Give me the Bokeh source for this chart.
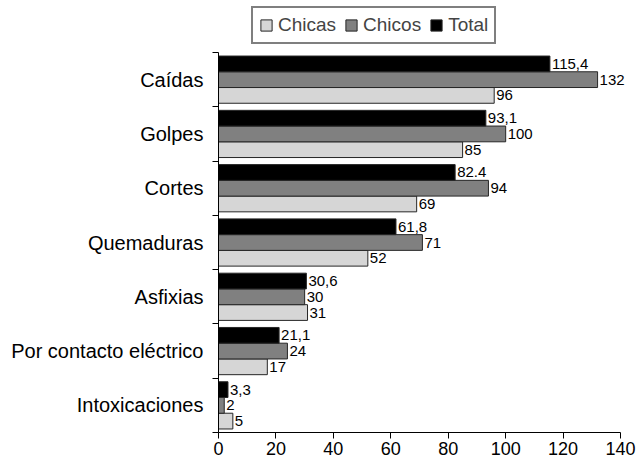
from bokeh.plotting import figure
from bokeh.models import ColumnDataSource, FixedTicker, Range1d, Legend, LegendItem, LabelSet
from bokeh.transform import dodge
from bokeh.core.properties import value
from bokeh.embed import file_html
from bokeh.resources import INLINE

categories = ["Caídas", "Golpes", "Cortes", "Quemaduras", "Asfixias",
              "Por contacto eléctrico", "Intoxicaciones"]
chicas = [96, 85, 69, 52, 31, 17, 5]
chicos = [132, 100, 94, 71, 30, 24, 2]
total = [115.4, 93.1, 82.4, 61.8, 30.6, 21.1, 3.3]
chicas_lbl = ["96", "85", "69", "52", "31", "17", "5"]
chicos_lbl = ["132", "100", "94", "71", "30", "24", "2"]
total_lbl = ["115,4", "93,1", "82.4", "61,8", "30,6", "21,1", "3,3"]
x_ticks = [0, 20, 40, 60, 80, 100, 120, 140]

n = len(categories)
ypos = [n - i - 0.5 for i in range(n)]
src = ColumnDataSource(dict(y=ypos, chicas=chicas, chicos=chicos, total=total,
                            chicas_lbl=chicas_lbl, chicos_lbl=chicos_lbl, total_lbl=total_lbl))

FONT = "Liberation Sans"
p = figure(width=637, height=464, output_backend="svg", toolbar_location=None,
           x_range=Range1d(0, 145.9), y_range=Range1d(0, n + 0.958),
           min_border_left=218, min_border_right=0, min_border_top=0, min_border_bottom=32)
p.outline_line_color = None
p.grid.grid_line_color = None
p.background_fill_color = "white"

bh = 0.29
outline = "#262626"
r_chicas = p.hbar(y=dodge("y", -bh, range=p.y_range), right="chicas", left=0, height=bh,
                  source=src, fill_color="#d6d6d6", line_color=outline, line_width=1)
r_chicos = p.hbar(y=dodge("y", 0, range=p.y_range), right="chicos", left=0, height=bh,
                  source=src, fill_color="#808080", line_color=outline, line_width=1)
r_total = p.hbar(y=dodge("y", bh, range=p.y_range), right="total", left=0, height=bh,
                 source=src, fill_color="#000000", line_color=outline, line_width=1)

for col, lbl, off in [("chicas", "chicas_lbl", -bh), ("chicos", "chicos_lbl", 0), ("total", "total_lbl", bh)]:
    ls = LabelSet(x=col, y=dodge("y", off, range=p.y_range), text=lbl, source=src,
                  x_offset=2, text_baseline="middle", text_align="left",
                  text_font=value(FONT), text_font_size=value("15px"), text_color="black")
    p.add_layout(ls)

# x axis
p.xaxis.ticker = FixedTicker(ticks=x_ticks)
p.xaxis.bounds = (0, 140)
p.xaxis.major_label_text_font = FONT
p.xaxis.major_label_text_font_size = "18px"
p.xaxis.major_label_text_color = "black"
p.xaxis.major_tick_out = 6
p.xaxis.major_tick_in = 0
p.xaxis.minor_tick_line_color = None
p.xaxis.axis_line_color = "black"
p.xaxis.major_tick_line_color = "black"
p.xaxis.major_label_standoff = 3

# y axis: labels at centres, ticks at group boundaries
p.yaxis.ticker = FixedTicker(ticks=ypos, minor_ticks=list(range(n + 1)))
p.yaxis.bounds = (0, n)
p.yaxis.major_label_overrides = {y: c for y, c in zip(ypos, categories)}
p.yaxis.major_tick_out = 0
p.yaxis.major_tick_in = 0
p.yaxis.minor_tick_out = 6
p.yaxis.minor_tick_in = 0
p.yaxis.minor_tick_line_color = "black"
p.yaxis.axis_line_color = "black"
p.yaxis.major_label_text_font = FONT
p.yaxis.major_label_text_font_size = "20px"
p.yaxis.major_label_text_color = "black"
p.yaxis.major_label_standoff = 9

legend = Legend(items=[LegendItem(label="Chicas", renderers=[r_chicas]),
                       LegendItem(label="Chicos", renderers=[r_chicos]),
                       LegendItem(label="Total", renderers=[r_total])],
                orientation="horizontal", location=(33, 388),
                label_text_font=FONT, label_text_font_size="19px",
                glyph_width=14, glyph_height=14, label_standoff=5, spacing=8,
                padding=6, margin=0, border_line_color="black", border_line_width=2,
                label_height=18, background_fill_alpha=1)
p.add_layout(legend, "center")

open("out.html", "w").write(file_html(p, INLINE))
